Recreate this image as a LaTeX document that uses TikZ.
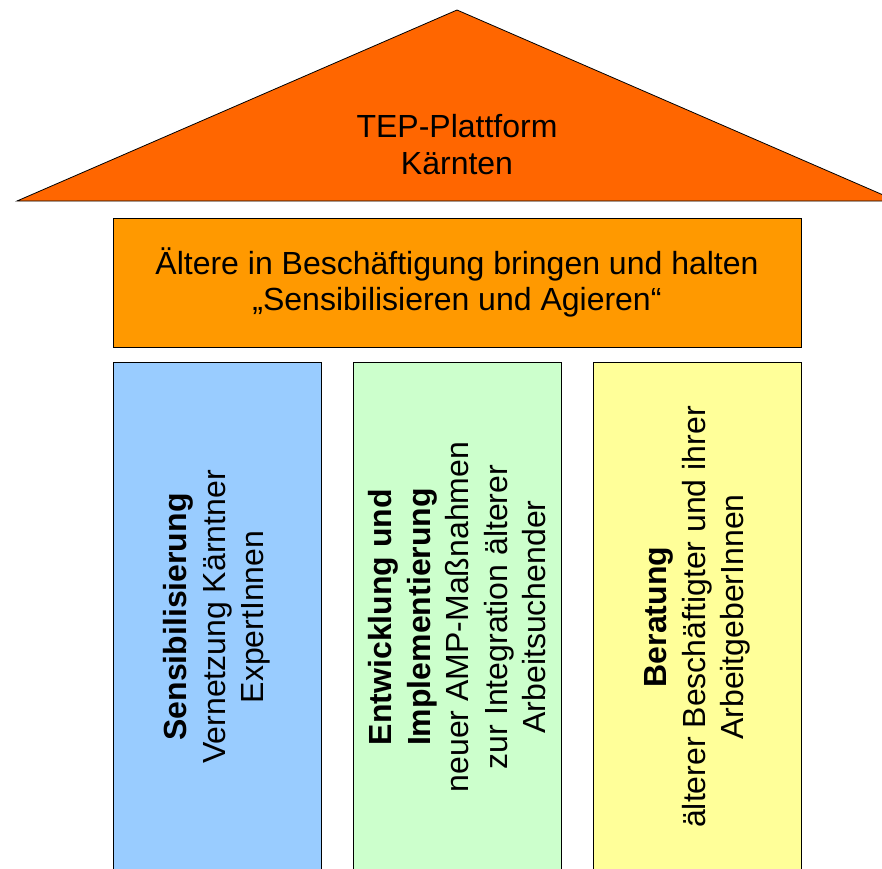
\documentclass[tikz,border=0pt]{standalone}
\usepackage{fontspec}
\setmainfont{Liberation Sans}
\definecolor{roofcol}{HTML}{FF6600}
\definecolor{beamcol}{HTML}{FF9900}
\definecolor{bluecol}{HTML}{99CCFF}
\definecolor{greencol}{HTML}{CCFFCC}
\definecolor{yellowcol}{HTML}{FFFF99}
\begin{document}
\begin{tikzpicture}[x=1pt, y=-1pt,
        block/.style={draw=black, line width=0.8pt, align=center, inner sep=0pt, font=\fontsize{32}{36}\selectfont},
        pillar/.style={block, rotate=90, minimum width=510pt, minimum height=208pt, font=\fontsize{32}{38.5}\selectfont}]
        \useasboundingbox (0,0) rectangle (882,868);
        \draw[fill=roofcol, line width=0.8pt] (17,201) -- (457,10) -- (897,201) -- cycle;
        \node[align=center, font=\fontsize{32}{37}\selectfont] (roof) at (457,145) {TEP-Plattform\\Kärnten};
        \node[block, fill=beamcol, minimum width=688pt, minimum height=129pt] (beam) at (457,282.5) {Ältere in Beschäftigung bringen und halten\\„Sensibilisieren und Agieren“};
        \node[pillar, fill=bluecol] (sens) at (217,617) {\textbf{Sensibilisierung}\\Vernetzung Kärntner\\ExpertInnen};
        \node[pillar, fill=greencol] (entw) at (457.5,617) {\textbf{Entwicklung und}\\\textbf{Implementierung}\\neuer AMP-Maßnahmen\\zur Integration älterer\\Arbeitsuchender};
        \node[pillar, fill=yellowcol] (bera) at (697.5,617) {\textbf{Beratung}\\älterer Beschäftigter und ihrer\\ArbeitgeberInnen};
    \end{tikzpicture}
\end{document}
